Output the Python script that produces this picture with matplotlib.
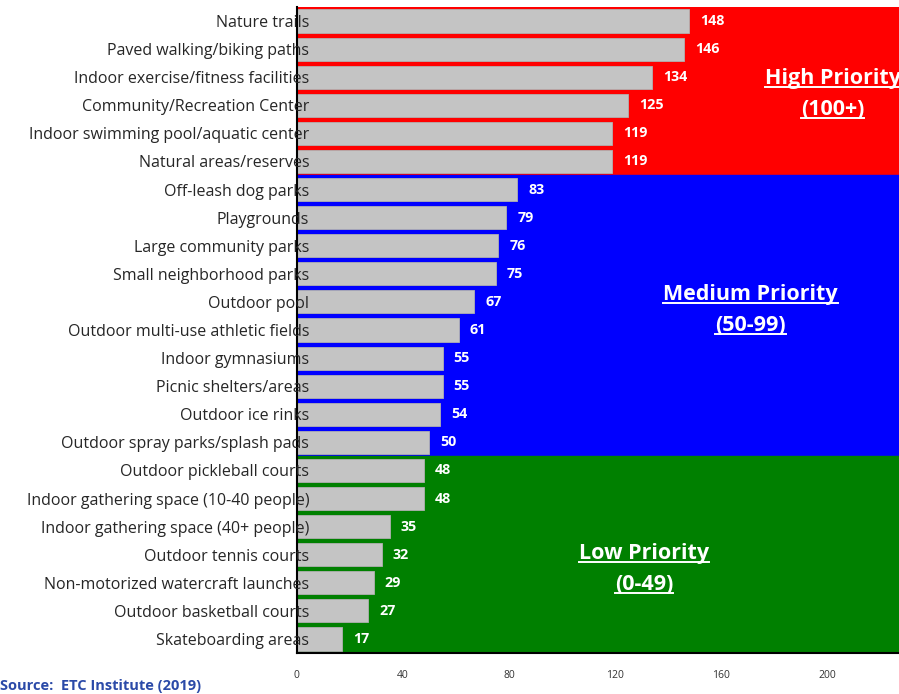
import matplotlib.pyplot as plt
import numpy as np

plt.rcParams['font.family'] = ['Open Sans', 'DejaVu Sans']

# facility priority ratings
facilities = [
    "Nature trails", "Paved walking/biking paths", "Indoor exercise/fitness facilities",
    "Community/Recreation Center", "Indoor swimming pool/aquatic center",
    "Natural areas/reserves", "Off-leash dog parks", "Playgrounds",
    "Large community parks", "Small neighborhood parks", "Outdoor pool",
    "Outdoor multi-use athletic fields", "Indoor gymnasiums", "Picnic shelters/areas",
    "Outdoor ice rinks", "Outdoor spray parks/splash pads", "Outdoor pickleball courts",
    "Indoor gathering space (10-40 people)", "Indoor gathering space (40+ people)",
    "Outdoor tennis courts", "Non-motorized watercraft launches",
    "Outdoor basketball courts", "Skateboarding areas",
]
scores = [148, 146, 134, 125, 119, 119, 83, 79, 76, 75, 67, 61, 55, 55, 54, 50,
          48, 48, 35, 32, 29, 27, 17]

tier_names = ["High Priority", "Medium Priority", "Low Priority"]
tier_ranges = ["(100+)", "(50-99)", "(0-49)"]
tier_counts = [6, 10, 7]
tier_colors = ["#ff0000", "#0000ff", "#008000"]
xticks = [0, 40, 80, 120, 160, 200]

fig = plt.figure(figsize=(8.99, 6.94), dpi=100)
ax = fig.add_axes([0.330, 0.059, 0.670, 0.931])

y = np.arange(len(facilities))
ax.set_ylim(len(facilities) - 0.5, -0.5)
ax.set_xlim(0, 227)

# coloured priority bands behind the bars
start = -0.5
label_pos = [(202, 2.6), (171, 10.3), (131, 19.5)]
for n, c in zip(tier_counts, tier_colors):
    ax.axhspan(start, start + n, color=c, zorder=0)
    start += n

ax.barh(y, scores, height=0.82, color="#c4c4c4", edgecolor="#b0b0b0",
        linewidth=0.6, zorder=2)

for yi, v in zip(y, scores):
    ax.annotate(str(v), (v, yi), xytext=(8, 0), textcoords="offset points",
                va="center", ha="left", color="white", fontsize=10.3,
                fontweight="bold", zorder=3)

ax.set_yticks(y)
ax.set_yticklabels(facilities, fontsize=11.5, color="#262626")
ax.tick_params(axis="y", length=0, pad=-9)
ax.yaxis.set_zorder(10)
ax.set_xticks(xticks)
ax.set_xticklabels([str(t) for t in xticks], fontsize=7.5, color="#333333")
ax.tick_params(axis="x", length=0, pad=12)

for side in ["top", "right"]:
    ax.spines[side].set_visible(False)
ax.spines["left"].set_linewidth(1.5)
ax.spines["bottom"].set_linewidth(1.5)

# tier headings, underlined
heads = []
for (tx, ty), name, rng in zip(label_pos, tier_names, tier_ranges):
    t1 = ax.text(tx, ty - 0.55, name, ha="center", va="center", color="white",
                 fontsize=15.5, fontweight="bold", zorder=5)
    t2 = ax.text(tx, ty + 0.55, rng, ha="center", va="center", color="white",
                 fontsize=15.5, fontweight="bold", zorder=5)
    heads += [t1, t2]

fig.canvas.draw()
r = fig.canvas.get_renderer()
for t in heads:
    bb = t.get_window_extent(r)
    yy = (bb.y0 + 2) / fig.bbox.height
    fig.add_artist(plt.Line2D([bb.x0 / fig.bbox.width, bb.x1 / fig.bbox.width],
                              [yy, yy], color="white", linewidth=1.4, zorder=6))

fig.text(0.0, 0.012, "Source:  ETC Institute (2019)", color="#2b4aa8",
         fontsize=10.5, fontweight="bold", ha="left", va="center")

fig.savefig("out.png", dpi=100)
